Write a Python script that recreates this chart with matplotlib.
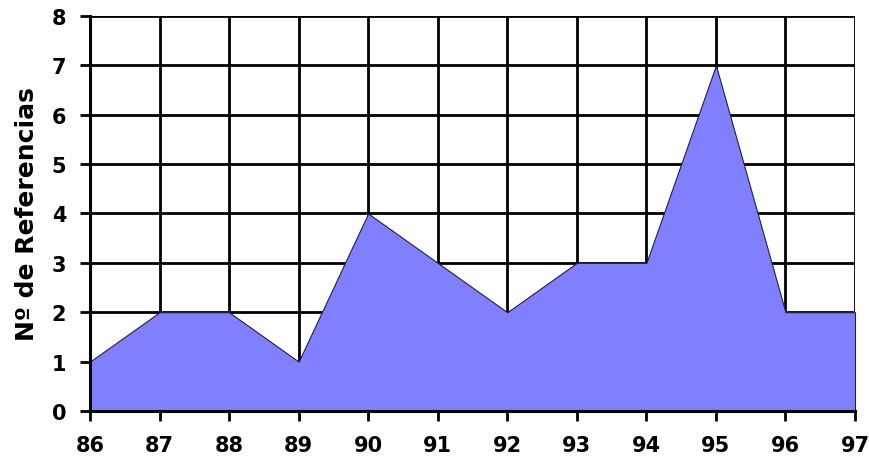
import matplotlib
matplotlib.use("Agg")
import matplotlib.pyplot as plt

# años (eje x) y número de referencias
years = [86, 87, 88, 89, 90, 91, 92, 93, 94, 95, 96, 97]
refs = [1, 2, 2, 1, 4, 3, 2, 3, 3, 7, 2, 2]
yticks = [0, 1, 2, 3, 4, 5, 6, 7, 8]

plt.rcParams['font.family'] = ['DejaVu Sans']

fig = plt.figure(figsize=(8.7, 4.64), dpi=100)
ax = fig.add_axes([0.1034, 0.1121, 0.8794, 0.8513])

ax.fill_between(years, refs, 0, facecolor="#8080FF", edgecolor="#202040",
                linewidth=0.8, zorder=3)

ax.set_xlim(years[0], years[-1])
ax.set_ylim(0, 8)
ax.set_xticks(years)
ax.set_yticks(yticks)
ax.set_xticklabels([str(y) for y in years], fontsize=15, fontweight="bold")
ax.set_yticklabels([str(v) for v in yticks], fontsize=15, fontweight="bold")

ax.grid(True, color="black", linewidth=2, zorder=0)
ax.set_axisbelow(True)
for side in ("top", "right"):
    ax.spines[side].set_visible(False)
for side in ("left", "bottom"):
    ax.spines[side].set_linewidth(2.2)
    ax.spines[side].set_zorder(4)
ax.tick_params(direction="out", length=7, width=2, pad=10)

ax.set_ylabel("Nº de Referencias", fontsize=18, fontweight="bold", labelpad=9)

fig.savefig("out.png", dpi=100)
